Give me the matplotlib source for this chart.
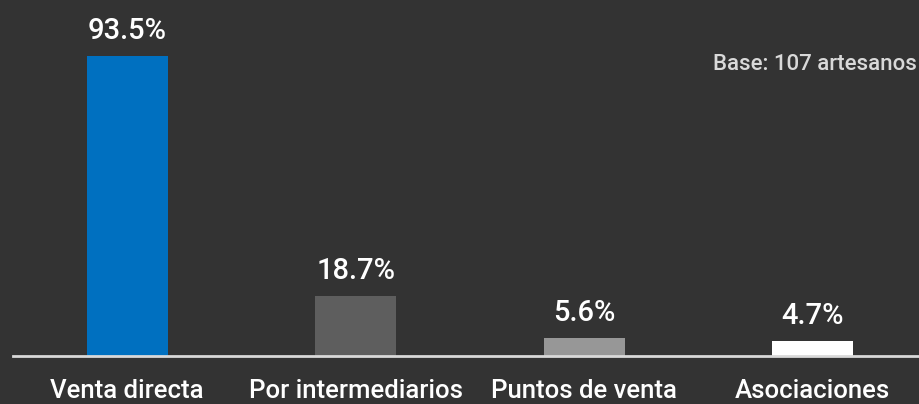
import matplotlib
matplotlib.use("Agg")
import matplotlib.pyplot as plt

categories = ["Venta directa", "Por intermediarios", "Puntos de venta", "Asociaciones"]
values = [93.5, 18.7, 5.6, 4.7]
value_labels = ["93.5%", "18.7%", "5.6%", "4.7%"]
colors = ["#0070C0", "#5E5E5E", "#979797", "#FFFFFF"]
note = "Base: 107 artesanos"

BG = "#333333"
plt.rcParams['font.family'] = ['Roboto', 'DejaVu Sans']

fig = plt.figure(figsize=(9.2, 4.04), dpi=100, facecolor=BG)
ax = fig.add_axes([13/920, 48/404, 907/920, 356/404])
ax.set_facecolor(BG)

x = list(range(len(categories)))
ax.bar(x, values, width=0.354, color=colors, zorder=2)
ax.set_xlim(-0.5, 3.47)
ax.set_ylim(0, 110.9)

for s in ["top", "right", "left"]:
    ax.spines[s].set_visible(False)
ax.spines["bottom"].set_color("#D9D9D9")
ax.spines["bottom"].set_linewidth(2)
ax.set_yticks([])
ax.set_xticks([])

for xi, v, lab in zip(x, values, value_labels):
    ax.annotate(lab, (xi, v), xytext=(0, 12), textcoords="offset points",
                ha="center", va="baseline", color="white", fontsize=21,
                fontweight="medium")

for xi, cat in zip(x, categories):
    ax.annotate(cat, (xi, 0), xytext=(0, -30.5), textcoords="offset points",
                ha="center", va="baseline", color="white", fontsize=18.5,
                fontweight="medium", annotation_clip=False)

fig.text(917/920, 1 - 70/404, note, ha="right", va="baseline",
         color="#D9D9D9", fontsize=16, fontweight="medium")

fig.savefig("out.png", dpi=100, facecolor=BG)
